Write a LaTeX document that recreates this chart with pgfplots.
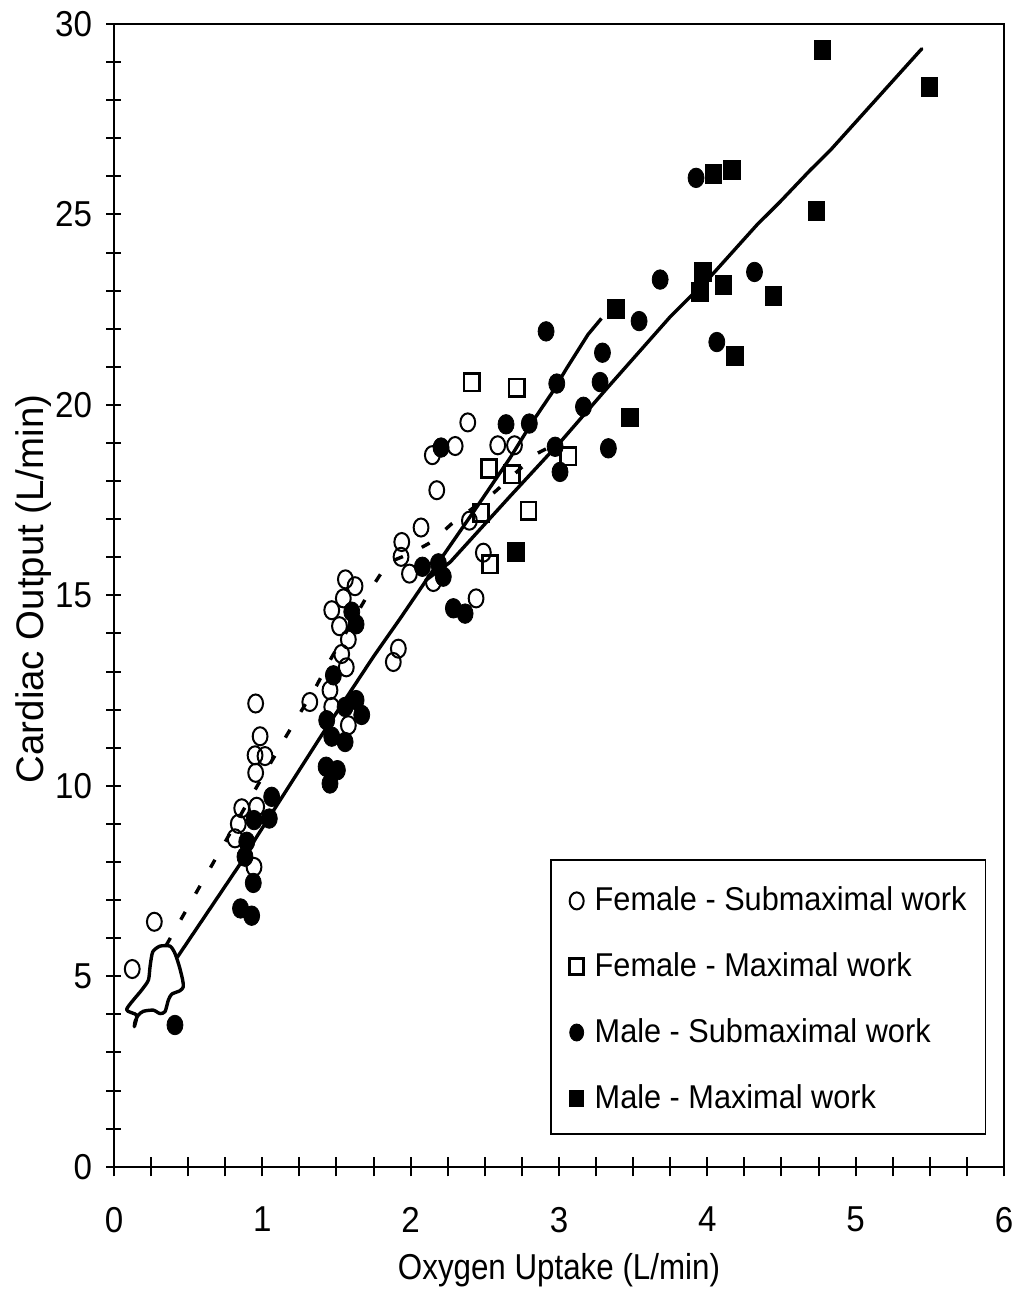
\documentclass[border=0pt]{standalone}
\usepackage{fontspec}
\setmainfont{Liberation Sans}
\newfontfamily\tickf{Liberation Sans}[FakeStretch=0.92]
\newfontfamily\xlabf{Liberation Sans}[FakeStretch=0.87]
\newfontfamily\legf{Liberation Sans}[FakeStretch=0.93]
\usepackage{pgfplots}
\pgfplotsset{compat=1.18}
\begin{document}
\begin{tikzpicture}
\begin{axis}[
  scale only axis, width=445pt, height=571.35pt,
  xmin=0, xmax=6, ymin=0, ymax=30,
  xtick={0,1,...,6}, ytick={0,5,...,30},
  minor x tick num=3, minor y tick num=4,
  tick align=center, xtick pos=bottom, ytick pos=left,
  xtick style={/pgfplots/major tick length=9.7pt,/pgfplots/minor tick length=9.7pt},
  ytick style={/pgfplots/major tick length=7.5pt,/pgfplots/minor tick length=7.5pt},
  every tick/.append style={black, line width=1pt},
  axis line style={line width=1pt},
  /pgf/number format/assume math mode=true,
  ticklabel style={font=\tickf\fontsize{18}{20}\selectfont},
  xticklabel style={yshift=-14.5pt},
  yticklabel style={xshift=-5.3pt},
  xlabel={Oxygen Uptake (L/min)}, ylabel={Cardiac Output (L/min)},
  xlabel style={font=\xlabf\fontsize{18}{20}\selectfont, at={(axis description cs:0.5,-0.0905)}, anchor=center},
  ylabel style={font=\fontsize{19.2}{21}\selectfont, at={(axis description cs:-0.0908,0.5056)}, anchor=center},
  legend style={at={(axis cs:2.938,8.07)}, anchor=north west, draw=black, line width=0.9pt,
    inner xsep=9.5pt, inner ysep=12.8pt, row sep=20.4pt, column sep=5.5pt,
    font=\legf\fontsize{16.5}{19}\selectfont,
    nodes={inner sep=0pt, text height=12.5pt, text depth=0pt}},
  legend cell align=left,
  legend image code/.code={\draw[#1, mark size=3.5pt] plot coordinates {(0pt,-1.3pt)};},
]
% blob
\addplot[forget plot, black, line width=1.7pt, line join=round, line cap=round, smooth, tension=0.4] coordinates {
(0.137,3.675) (0.153,3.98) (0.085,4.13) (0.187,4.64) (0.232,4.90) (0.243,5.25) (0.261,5.64)
(0.310,5.79) (0.378,5.79) (0.411,5.60) (0.441,5.25) (0.463,4.90) (0.467,4.72) (0.445,4.62)
(0.389,4.53) (0.366,4.37) (0.344,4.07) (0.310,4.02) (0.265,4.11) (0.198,4.08) (0.164,3.98)
(0.142,3.81) (0.137,3.675)};
% solid line A
\addplot[forget plot, black, line width=1.7pt, line join=round] coordinates {
(0.427,5.50) (0.861,8.01) (0.962,8.66) (1.40,11.33) (1.749,13.39) (1.929,14.39) (2.151,15.66)
(2.432,17.24) (2.669,18.6) (2.82,19.55) (2.95,20.3) (3.05,20.95) (3.196,21.85) (3.286,22.27)};
% solid line B
\addplot[forget plot, black, line width=1.7pt, line join=round, line cap=round] coordinates {
(2.1,15.39) (2.266,15.87) (2.67,17.6) (3.019,19.07) (3.322,20.43) (3.749,22.31) (4.019,23.36)
(4.333,24.72) (4.49,25.33) (4.693,26.16) (4.828,26.68) (5.446,29.35)};
% dashed line
\addplot[forget plot, black, line width=1.7pt, dash pattern=on 4.5pt off 10.5pt] coordinates {
(0.35,5.8) (0.76,8.6) (0.962,9.97) (1.165,11.33) (1.367,12.64) (1.457,13.3) (1.749,15.27)
(1.848,15.86) (2.0,16.1) (2.14,16.4) (2.277,16.88) (2.569,17.72) (2.85,18.72) (2.92,18.86)};
% Female submaximal
\addplot[only marks, black, mark=o, mark size=3.7pt, mark options={yscale=1.22, line width=1pt}] coordinates {
(0.123,5.19) (0.272,6.43) (0.816,8.62) (0.838,9.0) (0.861,9.41) (0.962,9.45) (0.944,7.87)
(0.951,10.8) (0.955,10.34) (0.985,11.30) (1.018,10.78) (0.955,12.16) (1.32,12.2) (1.456,12.51)
(1.468,12.07) (1.58,11.59) (1.566,13.11) (1.535,13.46) (1.58,13.84) (1.52,14.19) (1.468,14.61)
(1.546,14.92) (1.56,15.42) (1.625,15.24) (1.883,13.25) (1.917,13.6) (1.935,16.01) (1.94,16.40)
(1.992,15.57) (2.07,16.78) (2.153,15.35) (2.176,17.76) (2.146,18.68) (2.30,18.92) (2.385,19.54)
(2.396,16.96) (2.441,14.92) (2.49,16.12) (2.587,18.94) (2.70,18.94)};
\addlegendentry{Female - Submaximal work}
% Female maximal
\addplot[only marks, black, mark=square, mark size=3.8pt, mark options={yscale=1.15, line width=1.3pt}] coordinates {
(2.412,20.59) (2.715,20.45) (2.529,18.33) (2.682,18.18) (3.063,18.65) (2.475,17.17) (2.794,17.22) (2.535,15.82)};
\addlegendentry{Female - Maximal work}
% Male submaximal
\addplot[only marks, black, mark=*, mark size=4pt, mark options={yscale=1.22, fill=black, line width=0.4pt}] coordinates {
(0.411,3.72) (0.853,6.78) (0.928,6.59) (0.939,7.45) (0.883,8.14) (0.895,8.53) (0.944,9.1)
(1.047,9.14) (1.063,9.71) (1.43,10.5) (1.506,10.41) (1.456,10.06) (1.468,11.29) (1.558,11.15)
(1.434,11.72) (1.558,12.07) (1.632,12.25) (1.67,11.86) (1.479,12.9) (1.603,14.57) (1.632,14.24)
(2.079,15.75) (2.187,15.84) (2.22,15.49) (2.288,14.66) (2.367,14.52) (2.205,18.88) (2.643,19.49)
(2.80,19.51) (2.974,18.9) (3.007,18.24) (3.333,18.86) (2.985,20.56) (3.165,19.95) (3.277,20.6)
(3.293,21.37) (2.913,21.93) (3.54,22.2) (3.682,23.29) (4.318,23.49) (4.064,21.65) (3.924,25.96)};
\addlegendentry{Male - Submaximal work}
% Male maximal
\addplot[only marks, black, mark=square*, mark size=4.1pt, mark options={yscale=1.15, fill=black, line width=0.4pt}] coordinates {
(2.709,16.13) (3.479,19.67) (3.383,22.53) (3.951,22.97) (3.97,23.49) (4.109,23.16) (4.446,22.86)
(4.187,21.28) (4.04,26.07) (4.165,26.18) (4.734,25.09) (4.776,29.31) (5.496,28.35)};
\addlegendentry{Male - Maximal work}
\end{axis}
\pgfresetboundingbox
\useasboundingbox (-57pt,-63.65pt) rectangle (452pt,583.35pt);
\end{tikzpicture}
\end{document}
